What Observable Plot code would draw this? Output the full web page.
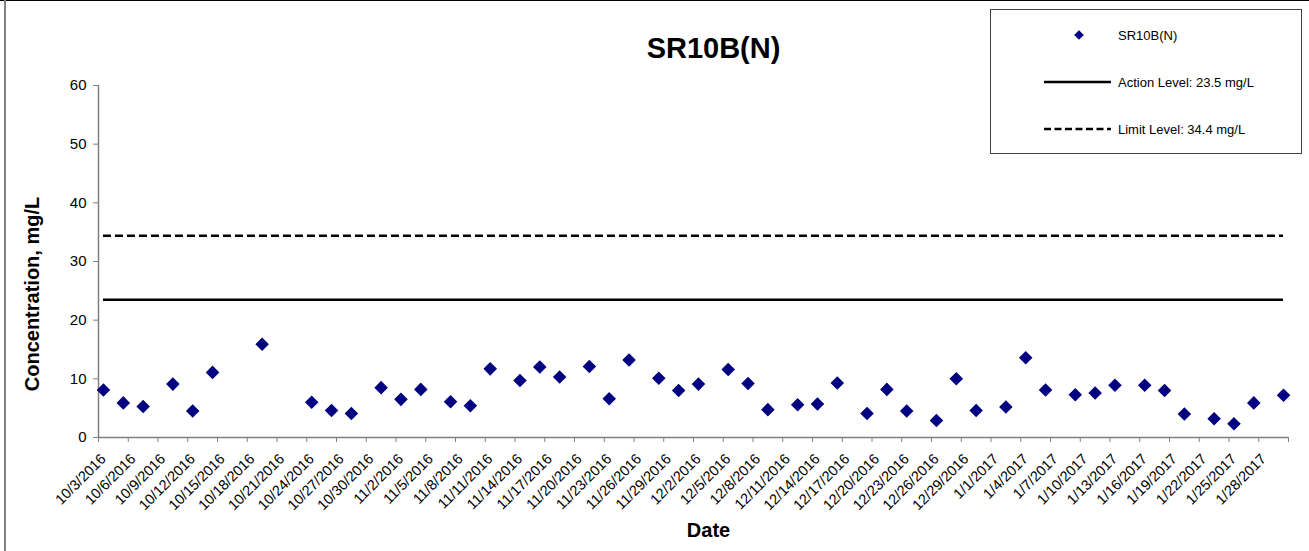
<!DOCTYPE html>
<html>
<head>
<meta charset="utf-8">
<script src="https://cdn.jsdelivr.net/npm/d3@7"></script>
<script src="https://cdn.jsdelivr.net/npm/@observablehq/plot@0.6"></script>
<style>
  html, body { margin: 0; padding: 0; background: white; }
  body { width: 1309px; height: 551px; position: relative; overflow: hidden; font-family: "Liberation Sans", Arial, sans-serif; }
  #chart { position: absolute; left: 0; top: 0; }
  #topline { position: absolute; left: 0; top: 0; width: 1309px; height: 1px; background: #000; }
  #leftline { position: absolute; left: 4px; top: 0; width: 2px; height: 551px; background: #808080; }
  #legend { position: absolute; left: 990px; top: 9px; width: 310px; height: 143px; border: 1px solid #404040; background: white; }
  #legend svg { position: absolute; left: 0; top: 0; }
  #ylabel { position: absolute; left: 32px; top: 294px; transform: translate(-50%, -50%) rotate(-90deg); white-space: nowrap;
            font-size: 20px; font-weight: bold; line-height: 1; }
</style>
</head>
<body>
<div id="chart"></div>
<div id="topline"></div>
<div id="leftline"></div>
<div id="ylabel"></div>
<div id="legend"></div>
<script>
// ---- data ----
const seriesName = "SR10B(N)";
const dates = [
  "2016-10-03","2016-10-05","2016-10-07","2016-10-10","2016-10-12","2016-10-14","2016-10-19",
  "2016-10-24","2016-10-26","2016-10-28","2016-10-31","2016-11-02","2016-11-04","2016-11-07",
  "2016-11-09","2016-11-11","2016-11-14","2016-11-16","2016-11-18","2016-11-21","2016-11-23",
  "2016-11-25","2016-11-28","2016-11-30","2016-12-02","2016-12-05","2016-12-07","2016-12-09",
  "2016-12-12","2016-12-14","2016-12-16","2016-12-19","2016-12-21","2016-12-23","2016-12-26",
  "2016-12-28","2016-12-30","2017-01-02","2017-01-04","2017-01-06","2017-01-09","2017-01-11",
  "2017-01-13","2017-01-16","2017-01-18","2017-01-20","2017-01-23","2017-01-25","2017-01-27",
  "2017-01-30"
];
const values = [
  8.1, 5.9, 5.3, 9.1, 4.5, 11.1, 15.9,
  6.0, 4.6, 4.1, 8.5, 6.5, 8.2, 6.1,
  5.4, 11.7, 9.7, 12.0, 10.3, 12.1, 6.6,
  13.2, 10.1, 8.0, 9.1, 11.6, 9.2, 4.75,
  5.6, 5.7, 9.3, 4.1, 8.2, 4.5, 2.9,
  10.0, 4.6, 5.2, 13.6, 8.1, 7.3, 7.6,
  8.9, 8.9, 8.0, 4.0, 3.2, 2.35, 5.9,
  7.2
];
const actionLevel = 23.5;
const limitLevel = 34.4;
const actionLabel = "Action Level: 23.5 mg/L";
const limitLabel = "Limit Level: 34.4 mg/L";
const yTicks = [0, 10, 20, 30, 40, 50, 60];
const xDomain = ["2016-10-03", "2017-01-31"];
const tickStepDays = 3;
const titleText = "SR10B(N)";
const yLabel = "Concentration, mg/L";
const xLabel = "Date";

// ---- build ----
const data = dates.map((d, i) => ({date: new Date(d), value: values[i]}));
const start = new Date(xDomain[0]), end = new Date(xDomain[1]);
const xTicks = d3.utcDay.range(start, d3.utcDay.offset(end, 1), tickStepDays);
const lastTick = xTicks[xTicks.length - 1];
const fmt = d => +d === +lastTick ? "" : `${d.getUTCMonth() + 1}/${d.getUTCDate()}/${d.getUTCFullYear()}`;
// Excel date axis: points sit in the middle of their day
const mid = d => d3.utcHour.offset(d.date, 12);
const firstX = mid(data[0]), lastX = mid(data[data.length - 1]);

const navy = "#000080";
const axisGray = "#808080";

const chart = Plot.plot({
  width: 1309,
  height: 551,
  marginTop: 85,
  marginBottom: 114,
  marginLeft: 98,
  marginRight: 21,
  style: {fontFamily: "'Liberation Sans', Arial, sans-serif", fontSize: "15px", color: "black", background: "transparent", overflow: "visible"},
  x: {type: "utc", domain: [start, end]},
  y: {domain: [0, 60]},
  marks: [
    Plot.ruleY([limitLevel], {x1: () => firstX, x2: () => lastX, stroke: "black", strokeWidth: 2.5, strokeDasharray: "8,4"}),
    Plot.ruleY([actionLevel], {x1: () => firstX, x2: () => lastX, stroke: "black", strokeWidth: 2.5}),
    Plot.ruleX([start], {stroke: axisGray, strokeWidth: 1.5}),
    Plot.ruleY([0], {stroke: axisGray, strokeWidth: 1.5}),
    Plot.dot(data, {x: mid, y: "value", symbol: "diamond2", r: 6.1, fill: navy, stroke: "none"}),
    Plot.axisY({ticks: yTicks, tickSize: 5, tickPadding: 7, stroke: axisGray, fill: "black", label: null}),
    // x tick marks only
    Plot.axisX({ticks: xTicks, tickFormat: () => "", tickSize: 5, stroke: axisGray, label: null}),
    // x tick labels only (rotated)
    Plot.axisX({ticks: xTicks, tickFormat: fmt, tickRotate: -45, tickSize: 0, tickPadding: 8, dx: 5, dy: 11, fill: "black", label: null}),
    Plot.text([titleText], {frameAnchor: "top", dx: 20, dy: -37, fontSize: 29, fontWeight: "bold", lineAnchor: "middle"}),
    Plot.text([xLabel], {frameAnchor: "bottom", dx: 15, dy: 93, fontSize: 20, fontWeight: "bold", lineAnchor: "middle"})
  ]
});
d3.select(chart).selectAll('g[aria-label="x-axis tick label"]').style("font-size", "14.5px");
document.getElementById("chart").appendChild(chart);
document.getElementById("ylabel").textContent = yLabel;

// ---- legend ----
const lg = d3.select("#legend").append("svg").attr("width", 310).attr("height", 143)
  .style("font-family", "'Liberation Sans', Arial, sans-serif").style("font-size", "13px");
const rows = [
  {label: seriesName, type: "dot", y: 25},
  {label: actionLabel, type: "solid", y: 72},
  {label: limitLabel, type: "dash", y: 119}
];
rows.forEach(r => {
  if (r.type === "dot") {
    lg.append("path").attr("d", d3.symbol(d3.symbolDiamond2, 60)()).attr("transform", `translate(88,${r.y})`).attr("fill", navy);
  } else {
    lg.append("line").attr("x1", 53).attr("x2", 120).attr("y1", r.y).attr("y2", r.y)
      .attr("stroke", "black").attr("stroke-width", 2.5)
      .attr("stroke-dasharray", r.type === "dash" ? "7,3.5" : null);
  }
  lg.append("text").attr("x", 127).attr("y", r.y).attr("dy", "0.35em").text(r.label);
});
</script>
</body>
</html>
